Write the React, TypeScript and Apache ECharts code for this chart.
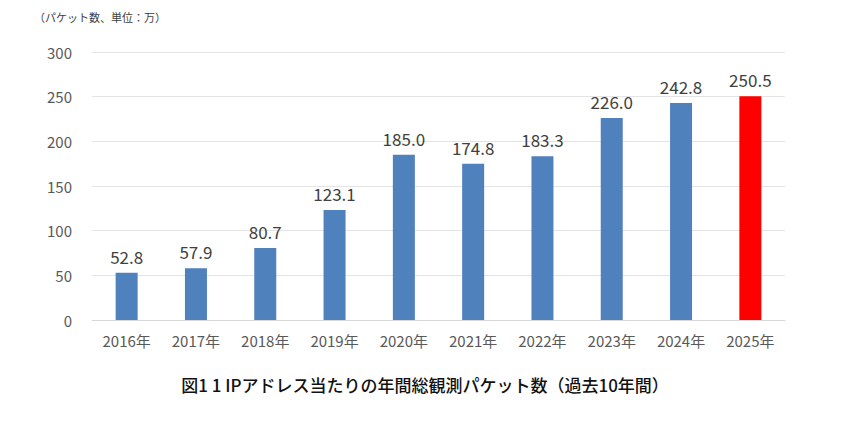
import { useEffect, useRef } from 'react';
import * as echarts from 'echarts';

const years = ['2016年', '2017年', '2018年', '2019年', '2020年', '2021年', '2022年', '2023年', '2024年', '2025年'];
const packets = [52.8, 57.9, 80.7, 123.1, 185.0, 174.8, 183.3, 226.0, 242.8, 250.5];
const yTicks = [0, 50, 100, 150, 200, 250, 300];

const unitNote = '（パケット数、単位：万）';
const caption = '図1 1 IPアドレス当たりの年間総観測パケット数（過去10年間）';

const FONT = '"Noto Sans CJK JP", "Noto Sans", sans-serif';

const App = () => {
    const chartRef = useRef<HTMLDivElement>(null);

    useEffect(() => {
        if (!chartRef.current) return;
        const chart = echarts.init(chartRef.current, undefined, { renderer: 'svg' });
        const last = packets.length - 1;

        chart.setOption({
            animation: false,
            textStyle: { fontFamily: FONT },
            grid: { left: 92, right: 65, top: 52, bottom: 102 },
            graphic: [
                {
                    type: 'text',
                    left: 34,
                    top: 11,
                    style: { text: unitNote, fontSize: 11, fill: '#404040', fontFamily: FONT }
                },
                {
                    type: 'text',
                    left: 'center',
                    top: 376,
                    style: { text: caption, fontSize: 17, fontWeight: 500, fill: '#111', fontFamily: FONT }
                }
            ],
            xAxis: {
                type: 'category',
                data: years,
                axisLine: { show: true, lineStyle: { color: '#d9d9d9' } },
                axisTick: { show: false },
                axisLabel: { color: '#595959', fontSize: 15, margin: 13 }
            },
            yAxis: {
                type: 'value',
                min: yTicks[0],
                max: yTicks[yTicks.length - 1],
                interval: 50,
                axisLine: { show: false },
                axisTick: { show: false },
                axisLabel: { color: '#595959', fontSize: 15, margin: 20 },
                splitLine: { lineStyle: { color: '#e4e4e4' } }
            },
            series: [{
                type: 'bar',
                barWidth: 22,
                data: packets.map((v, i) => ({
                    value: v,
                    itemStyle: { color: i === last ? '#ff0000' : '#4f81bd' }
                })),
                label: {
                    show: true,
                    position: 'top',
                    distance: 8,
                    fontSize: 17,
                    color: '#404040',
                    formatter: (p: any) => Number(p.value).toFixed(1)
                }
            }]
        });

        return () => {
            chart.dispose();
        };
    }, []);

    return <div ref={chartRef} style={{ width: '850px', height: '422px', margin: '-8px' }} />;
};

export default App;
